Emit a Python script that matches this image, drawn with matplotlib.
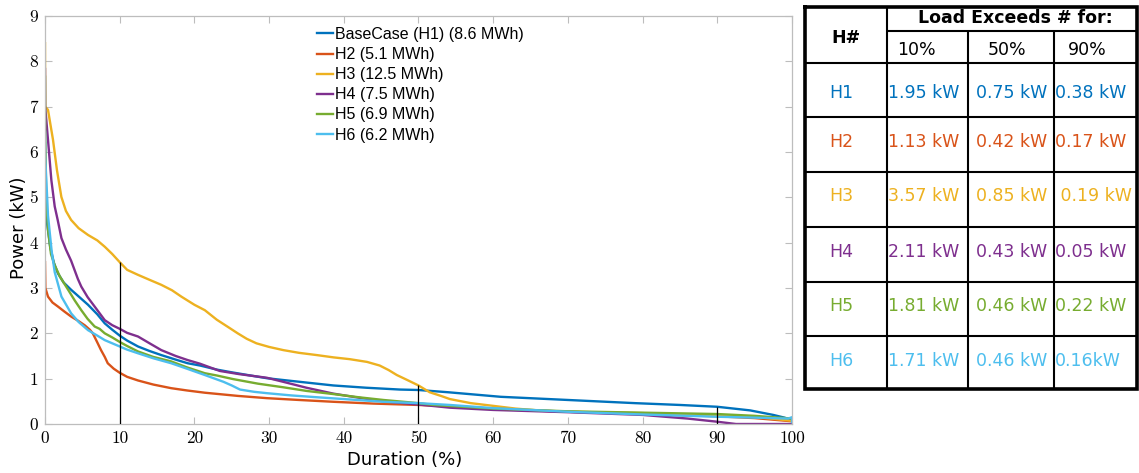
import numpy as np
import matplotlib
matplotlib.use("Agg")
import matplotlib.pyplot as plt

# load duration curves (duration %, power kW)
h1_d = [0, 0.05, 0.3, 0.7, 1.2, 1.74, 2.5, 3.5, 4.6, 5.76, 7, 8, 9, 10, 11, 12.45, 14, 15.57, 17.5, 19.1,
        20.75, 23, 25, 27.5, 29.7, 33, 38.6, 43, 47.5, 50, 54, 61, 70, 79, 85, 90, 94.4, 97.5, 99, 100]
h1_p = [6.2, 5.2, 4.4, 3.9, 3.55, 3.32, 3.12, 2.96, 2.8, 2.63, 2.42, 2.22, 2.08, 1.95, 1.84, 1.71, 1.61, 1.52, 1.42, 1.34,
        1.29, 1.20, 1.14, 1.07, 1.01, 0.95, 0.85, 0.80, 0.76, 0.75, 0.70, 0.60, 0.53, 0.46, 0.42, 0.38, 0.30, 0.20, 0.14, 0.08]

h2_d = [0, 0.05, 0.4, 1, 1.74, 2.6, 3.5, 4.4, 5.3, 6, 6.4, 7, 7.5, 8, 8.4, 9.2, 10, 11, 12.45, 14.5, 16.9, 19,
        21.4, 25.8, 29.7, 34, 38.6, 44, 50, 55, 60, 70, 80, 90, 95, 100]
h2_p = [3.57, 3.0, 2.81, 2.68, 2.59, 2.48, 2.37, 2.28, 2.18, 2.08, 2.0, 1.80, 1.63, 1.48, 1.34, 1.22, 1.13, 1.04, 0.96, 0.87, 0.79, 0.74,
        0.69, 0.62, 0.57, 0.53, 0.49, 0.45, 0.42, 0.38, 0.33, 0.27, 0.22, 0.17, 0.13, 0.06]

h3_d = [0, 0.02, 0.4, 1.07, 1.6, 2.19, 2.8, 3.5, 4.5, 5.76, 7, 8, 9, 10, 11, 12.45, 14, 15.57, 17, 18.25, 20, 21.4,
        23, 24.5, 25.8, 27, 28.3, 30, 31.9, 34, 36.4, 38.6, 40.8, 43.1, 44.8, 46, 47.1, 48.5, 50, 51.5, 53, 54.2,
        57, 60, 63, 66, 70, 80, 90, 95, 100]
h3_p = [8.4, 7.0, 6.93, 6.27, 5.6, 5.01, 4.7, 4.5, 4.32, 4.17, 4.05, 3.91, 3.75, 3.57, 3.40, 3.29, 3.18, 3.07, 2.95, 2.81, 2.63, 2.51,
        2.30, 2.14, 2.0, 1.88, 1.78, 1.70, 1.63, 1.57, 1.52, 1.47, 1.43, 1.37, 1.29, 1.19, 1.08, 0.97, 0.85, 0.70, 0.62, 0.55,
        0.46, 0.40, 0.34, 0.30, 0.27, 0.24, 0.19, 0.16, 0.07]

h4_d = [0, 0.02, 0.4, 0.85, 1.3, 1.7, 2.2, 2.8, 3.5, 4.4, 4.86, 5.7, 6.65, 8, 9, 10, 11, 12.45, 14, 15.57, 17.5, 19.1,
        20.75, 23.4, 26, 29.7, 31.9, 35, 38.6, 42, 45.3, 50, 54.2, 60, 70, 80, 86, 90, 92.5, 100]
h4_p = [7.83, 7.0, 6.27, 5.38, 4.8, 4.5, 4.1, 3.85, 3.6, 3.2, 3.03, 2.8, 2.59, 2.29, 2.18, 2.10, 2.01, 1.93, 1.78, 1.63, 1.50, 1.41,
        1.33, 1.17, 1.10, 1.02, 0.93, 0.80, 0.67, 0.58, 0.50, 0.43, 0.36, 0.31, 0.26, 0.20, 0.12, 0.05, 0.0, 0.0]

h5_d = [0, 0.02, 0.15, 0.4, 0.8, 1.3, 2.0, 3.1, 4.0, 4.86, 5.7, 6.65, 7.3, 8, 9, 10, 11, 12.45, 14.5, 16.9, 19, 21.4,
        23, 25.2, 28.5, 31.9, 35, 38.6, 42, 45.3, 50, 52, 60, 70, 80, 90, 95, 100]
h5_p = [7.66, 6.5, 5.0, 4.3, 3.75, 3.5, 3.25, 2.96, 2.72, 2.51, 2.32, 2.15, 2.1, 2.0, 1.91, 1.81, 1.72, 1.60, 1.48, 1.38, 1.25, 1.12,
        1.07, 0.99, 0.89, 0.81, 0.73, 0.66, 0.59, 0.53, 0.46, 0.42, 0.34, 0.28, 0.25, 0.22, 0.18, 0.12]

h6_d = [0, 0.02, 0.18, 0.4, 0.6, 0.9, 1.3, 2.2, 3.5, 4.5, 5.76, 7, 8, 10, 11, 12.45, 14.5, 16.9, 19, 21.4, 23.9, 25,
        26.1, 28, 29.7, 33, 36.4, 40, 45.3, 50, 54.2, 60, 70, 80, 90, 95, 99.5, 100, 100]
h6_p = [6.45, 5.9, 5.38, 4.6, 4.28, 3.8, 3.35, 2.81, 2.44, 2.25, 2.07, 1.95, 1.85, 1.71, 1.64, 1.56, 1.45, 1.34, 1.22, 1.08, 0.93, 0.85,
        0.76, 0.71, 0.68, 0.63, 0.59, 0.55, 0.49, 0.46, 0.42, 0.35, 0.27, 0.21, 0.16, 0.14, 0.12, 0.15, 0.04]

labels = ["BaseCase (H1) (8.6 MWh)", "H2 (5.1 MWh)", "H3 (12.5 MWh)",
          "H4 (7.5 MWh)", "H5 (6.9 MWh)", "H6 (6.2 MWh)"]
colors = ["#0072BD", "#D95319", "#EDB120", "#7E2F8E", "#77AC30", "#4DBEEE"]

# markers at 10/50/90 %
mark_d = [10, 50, 90]
mark_p = [3.57, 0.85, 0.38]

# table contents
houses = ["H1", "H2", "H3", "H4", "H5", "H6"]
t10 = ["1.95 kW", "1.13 kW", "3.57 kW", "2.11 kW", "1.81 kW", "1.71 kW"]
t50 = ["0.75 kW", "0.42 kW", "0.85 kW", "0.43 kW", "0.46 kW", "0.46 kW"]
t90 = ["0.38 kW", "0.17 kW", " 0.19 kW", "0.05 kW", "0.22 kW", "0.16kW"]

W, H = 1139, 473
fig = plt.figure(figsize=(W / 100, H / 100), dpi=100)
ax = fig.add_axes([45 / W, 1 - 424 / H, (792 - 45) / W, (424 - 16) / H])

series = [(h1_d, h1_p), (h2_d, h2_p), (h3_d, h3_p), (h4_d, h4_p), (h5_d, h5_p), (h6_d, h6_p)]
for (d, p), lab, c in zip(series, labels, colors):
    ax.plot(d, p, color=c, lw=1.7, label=lab)
ax.vlines(mark_d, 0, mark_p, color="black", lw=0.9, zorder=5)

ax.set_xlim(0, 100)
ax.set_ylim(0, 9)
ax.set_xticks(np.arange(0, 101, 10))
ax.set_yticks(np.arange(0, 10, 1))
for s in ax.spines.values():
    s.set_color("#bdbdbd")
    s.set_linewidth(0.9)
ax.tick_params(direction="in", length=5, width=0.8, color="#bdbdbd",
               top=True, right=True, labelsize=12.5, pad=5)
for t in ax.get_xticklabels() + ax.get_yticklabels():
    t.set_fontfamily("cmr10")
ax.set_xlabel("Duration (%)", fontsize=13, family="DejaVu Sans")
ax.set_ylabel("Power (kW)", fontsize=13, family="DejaVu Sans")
ax.xaxis.set_label_coords((405 - 45) / (792 - 45), -(460 - 424) / (424 - 16))
ax.xaxis.label.set_va("center")
ax.yaxis.set_label_coords((19 - 45) / (792 - 45), (424 - 228) / (424 - 16))
ax.yaxis.label.set_va("center")

leg = ax.legend(loc="upper left", bbox_to_anchor=(317 / W, 1 - 27 / H), bbox_transform=fig.transFigure,
                frameon=False, borderpad=0, borderaxespad=0, handlelength=1.0, handletextpad=0.15,
                labelspacing=0.32, prop={"family": "Liberation Sans", "size": 11.5})

# table drawn in pixel coordinates
tb = fig.add_axes([0, 0, 1, 1], facecolor="none")
tb.set_xlim(0, W)
tb.set_ylim(H, 0)
tb.axis("off")
x0, x1, x2, x3, x4 = 805, 887, 968, 1054, 1137
ys = [63, 117, 172, 227, 282, 336]
y_top, y_bot = 7, 389
tb.hlines(31, x1, x4, color="black", lw=1.5)
tb.hlines(ys, x0, x4, color="black", lw=1.5)
tb.vlines(x1, y_top, y_bot, color="black", lw=1.5)
tb.vlines([x2, x3], 31, y_bot, color="black", lw=1.5)
tb.plot([x0, x4, x4, x0, x0], [y_top, y_top, y_bot, y_bot, y_top], color="black", lw=2.6,
        solid_joinstyle="miter")

fs = 12.5
tb.text(846, 38, "H#", ha="center", va="center", fontsize=fs, fontweight="bold", family="DejaVu Sans")
tb.text(1015, 18, "Load Exceeds # for:", ha="center", va="center", fontsize=fs, fontweight="bold",
        family="DejaVu Sans")
for xx, lab in zip([897, 988, 1068], ["10%", "50%", "90%"]):
    tb.text(xx, 50, lab, ha="left", va="center", fontsize=fs, family="DejaVu Sans")
row_y = [93, 142, 196, 252, 306, 361]
for i in range(6):
    c = colors[i]
    tb.text(841, row_y[i], houses[i], ha="center", va="center", fontsize=fs, color=c, family="DejaVu Sans")
    tb.text(888, row_y[i], t10[i], ha="left", va="center", fontsize=fs, color=c, family="DejaVu Sans")
    tb.text(976, row_y[i], t50[i], ha="left", va="center", fontsize=fs, color=c, family="DejaVu Sans")
    tb.text(1055, row_y[i], t90[i], ha="left", va="center", fontsize=fs, color=c, family="DejaVu Sans")

fig.savefig("out.png", dpi=100)
